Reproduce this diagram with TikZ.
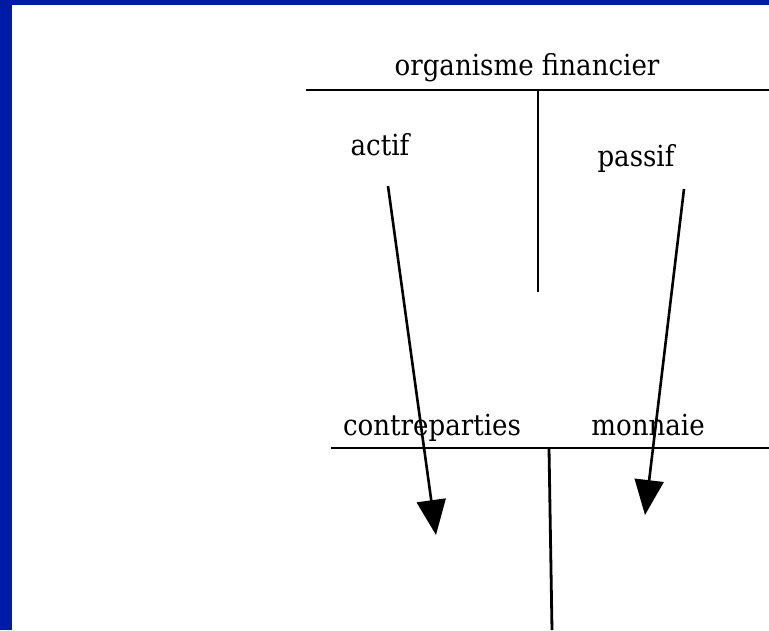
\documentclass[tikz,border=0pt]{standalone}
\usepackage{fontspec}
\setmainfont{DejaVu Serif Condensed}
\usetikzlibrary{arrows.meta}
\definecolor{frameblue}{RGB}{0,26,168}
\begin{document}
\begin{tikzpicture}[x=1pt,y=-1pt,
  lbl/.style={font=\fontsize{29}{33}\selectfont, inner sep=0pt, anchor=base},
  rule/.style={line width=2.8pt},
  flow/.style={line width=2.6pt, -{Triangle[length=35pt,width=29pt]}}]
\useasboundingbox (0,0) rectangle (769,630);
\fill[white] (0,0) rectangle (769,630);
\fill[frameblue] (0,0) rectangle (12,630);
\fill[frameblue] (0,0) rectangle (769,5);
% top account
\node[lbl] (org) at (527,75) {organisme financier};
\coordinate (t1l) at (306,90);
\coordinate (t1r) at (769,90);
\coordinate (t1top) at (538,90);
\coordinate (t1bot) at (538,292);
\draw[rule] (t1l) -- (t1r);
\draw[rule] (t1top) -- (t1bot);
\node[lbl] (actif) at (380,155) {actif};
\node[lbl] (passif) at (636,166) {passif};
% bottom account
\node[lbl] (contre) at (432,435) {contreparties};
\node[lbl] (monn) at (648,435) {monnaie};
\coordinate (t2l) at (331,448);
\coordinate (t2r) at (769,448);
\coordinate (t2top) at (549,448);
\coordinate (t2bot) at (552,630);
\draw[rule] (t2l) -- (t2r);
\draw[rule] (t2top) -- (t2bot);
% arrows
\coordinate (a1s) at (388,186);
\coordinate (a1e) at (436,535);
\coordinate (a2s) at (684,189);
\coordinate (a2e) at (645,515);
\draw[flow] (a1s) -- (a1e);
\draw[flow] (a2s) -- (a2e);
\end{tikzpicture}
\end{document}
